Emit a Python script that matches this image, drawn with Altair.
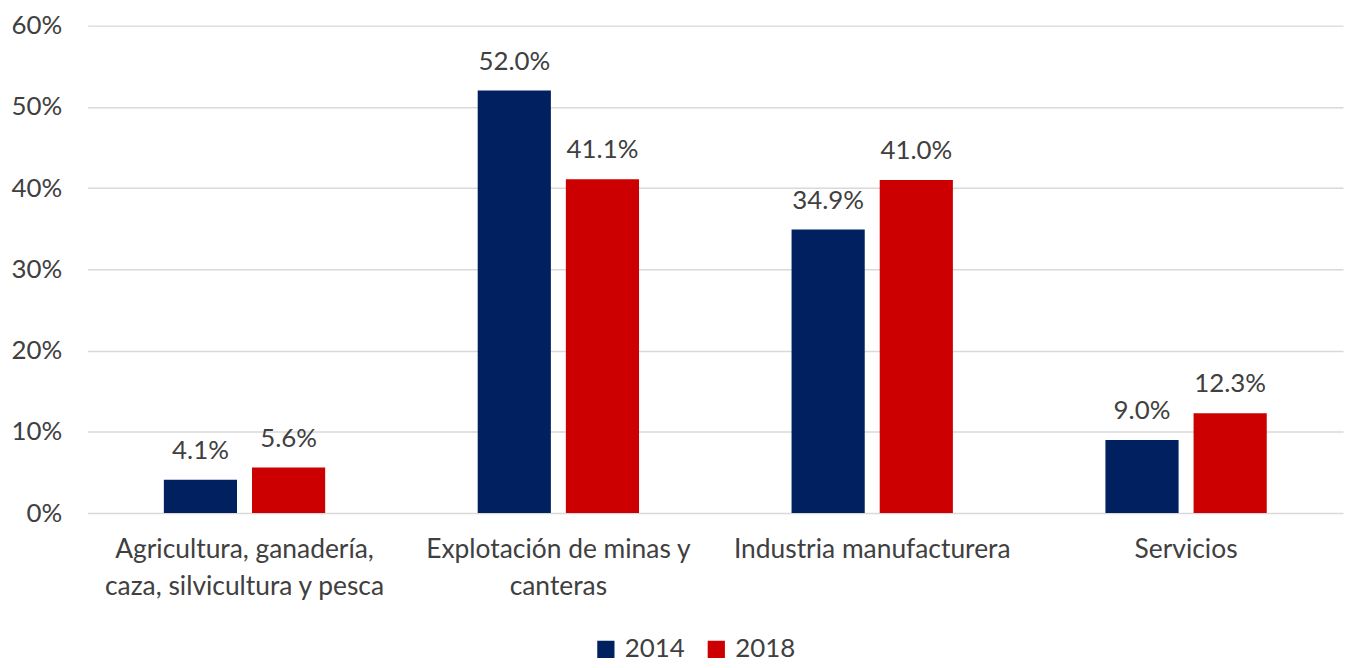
import altair as alt
import pandas as pd

categories = [
    "Agricultura, ganadería,|caza, silvicultura y pesca",
    "Explotación de minas y|canteras",
    "Industria manufacturera",
    "Servicios",
]
years = ["2014", "2018"]
values_2014 = [0.041, 0.520, 0.349, 0.090]
values_2018 = [0.056, 0.411, 0.410, 0.123]
colors = ["#002060", "#CC0000"]

rows = []
for c, a, b in zip(categories, values_2014, values_2018):
    rows.append({"cat": c, "year": "2014", "val": a})
    rows.append({"cat": c, "year": "2018", "val": b})
df = pd.DataFrame(rows)

FONT = "Lato"
GRAY = "#404040"

x = alt.X(
    "cat:N",
    sort=categories,
    scale=alt.Scale(paddingInner=0.486, paddingOuter=0.243),
    axis=alt.Axis(
        title=None,
        labelAngle=0,
        labelExpr="split(datum.label, '|')",
        labelFontSize=26.5,
        labelFont=FONT,
        labelColor=GRAY,
        labelLineHeight=37,
        labelPadding=24,
        ticks=False,
        domain=False,
        grid=False,
        labelLimit=400,
    ),
)
xo = alt.XOffset("year:N", sort=years, scale=alt.Scale(paddingInner=0.17))
y = alt.Y(
    "val:Q",
    scale=alt.Scale(domain=[0, 0.6]),
    axis=alt.Axis(
        title=None,
        format=".0%",
        values=[0, 0.1, 0.2, 0.3, 0.4, 0.5, 0.6],
        labelFontSize=26,
        labelFont=FONT,
        labelColor=GRAY,
        labelPadding=26,
        ticks=False,
        domain=False,
        gridColor="#D9D9D9",
        gridWidth=1.5,
    ),
)
color = alt.Color(
    "year:N",
    sort=years,
    scale=alt.Scale(domain=years, range=colors),
    legend=alt.Legend(
        title=None,
        orient="none",
        legendX=508,
        legendY=614,
        direction="horizontal",
        symbolType="square",
        symbolSize=300,
        symbolStrokeWidth=0,
        labelFontSize=26,
        labelFont=FONT,
        labelColor=GRAY,
        columnPadding=18,
        labelOffset=6,
    ),
)

bars = alt.Chart(df).mark_bar().encode(x=x, xOffset=xo, y=y, color=color)
labels = alt.Chart(df).mark_text(
    baseline="bottom", dy=-16, fontSize=26, font=FONT, color=GRAY
).encode(
    x=alt.X("cat:N", sort=categories),
    xOffset=alt.XOffset("year:N", sort=years),
    y="val:Q",
    text=alt.Text("val:Q", format=".1%"),
)

chart = (
    alt.layer(bars, labels)
    .properties(
        width=1262,
        height=490,
        background="white",
        autosize=alt.AutoSizeParams(type="none"),
        padding={"left": 80, "top": 16, "right": 2, "bottom": 150},
    )
    .configure_view(stroke=None)
)

chart.save("out.html", embed_options={"renderer": "svg", "actions": False})
